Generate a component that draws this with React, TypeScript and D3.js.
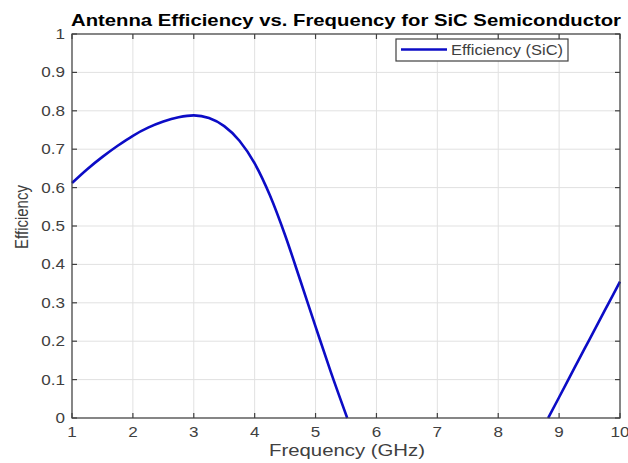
import * as d3 from "d3";

// values (the curve drops below 0 between 5.52 and 8.82 GHz and is clipped away)
const freq = [1, 1.25, 1.5, 1.75, 2, 2.25, 2.5, 2.75, 3, 3.25, 3.5, 3.75, 4, 4.25, 4.5, 4.75, 5, 5.25, 5.52, 8.82, 9, 9.25, 9.5, 9.75, 10];
const efficiency = [0.612, 0.648, 0.68, 0.709, 0.735, 0.756, 0.772, 0.783, 0.788, 0.781, 0.76, 0.722, 0.663, 0.58, 0.476, 0.358, 0.238, 0.12, 0, 0, 0.054, 0.13, 0.205, 0.28, 0.355];
const xTicks = [1, 2, 3, 4, 5, 6, 7, 8, 9, 10];
const yTicks = [0, 0.1, 0.2, 0.3, 0.4, 0.5, 0.6, 0.7, 0.8, 0.9, 1];

const W = 628;
const H = 463;
const left = 72, right = 620, top = 34, bottom = 418;
const font = "'Liberation Sans', Arial, sans-serif";
const axisColor = "#404040";
const lineColor = "#0c0cc6";
const stretch = 1.22;

export default function App() {
  const x = d3.scaleLinear().domain([1, 10]).range([left, right]);
  const y = d3.scaleLinear().domain([0, 1]).range([bottom, top]);
  const pts = freq.map((f, i) => [f, efficiency[i]] as [number, number]);
  const line = d3
    .line<[number, number]>()
    .x((d) => x(d[0]))
    .y((d) => y(d[1]))
    .curve(d3.curveMonotoneX);

  // the part under zero is outside the axes: only the two visible pieces are drawn
  const firstZero = efficiency.indexOf(0);
  const lastZero = efficiency.lastIndexOf(0);
  const pieces = [pts.slice(0, firstZero + 1), pts.slice(lastZero)];

  const tlen = 5;

  return (
    <svg width={W} height={H} style={{ position: "absolute", left: 0, top: 0, background: "#fff" }}>
      <rect x={0} y={0} width={W} height={H} fill="#fff" />
      {/* grid */}
      {xTicks.map((t) => (
        <line key={"gx" + t} x1={x(t)} x2={x(t)} y1={top} y2={bottom} stroke="#e1e1e1" strokeWidth={1} />
      ))}
      {yTicks.map((t) => (
        <line key={"gy" + t} x1={left} x2={right} y1={y(t)} y2={y(t)} stroke="#e1e1e1" strokeWidth={1} />
      ))}

      {/* data */}
      {pieces.map((p, i) => (
        <path key={"p" + i} d={line(p) || ""} fill="none" stroke={lineColor} strokeWidth={2.6} strokeLinejoin="round" />
      ))}

      {/* box + ticks */}
      <rect x={left} y={top} width={right - left} height={bottom - top} fill="none" stroke={axisColor} strokeWidth={1.2} />
      {xTicks.map((t) => (
        <g key={"tx" + t}>
          <line x1={x(t)} x2={x(t)} y1={bottom} y2={bottom - tlen} stroke={axisColor} strokeWidth={1.2} />
          <line x1={x(t)} x2={x(t)} y1={top} y2={top + tlen} stroke={axisColor} strokeWidth={1.2} />
          <text
            transform={`translate(${x(t)},${437}) scale(${stretch},1)`}
            textAnchor="middle"
            fontFamily={font}
            fontSize={14}
            fill={axisColor}
          >
            {t}
          </text>
        </g>
      ))}
      {yTicks.map((t) => (
        <g key={"ty" + t}>
          <line x1={left} x2={left + tlen} y1={y(t)} y2={y(t)} stroke={axisColor} strokeWidth={1.2} />
          <line x1={right} x2={right - tlen} y1={y(t)} y2={y(t)} stroke={axisColor} strokeWidth={1.2} />
          <text
            transform={`translate(${left - 7},${y(t) + 5}) scale(${stretch},1)`}
            textAnchor="end"
            fontFamily={font}
            fontSize={14}
            fill={axisColor}
          >
            {String(t)}
          </text>
        </g>
      ))}

      {/* labels */}
      <text
        x={(left + right) / 2}
        y={26}
        textAnchor="middle"
        fontFamily={font}
        fontSize={17}
        fontWeight="bold"
        fill="#000"
        textLength={550}
        lengthAdjust="spacingAndGlyphs"
      >
        Antenna Efficiency vs. Frequency for SiC Semiconductor
      </text>
      <text
        x={347}
        y={456}
        textAnchor="middle"
        fontFamily={font}
        fontSize={16.5}
        fill={axisColor}
        textLength={156}
        lengthAdjust="spacingAndGlyphs"
      >
        Frequency (GHz)
      </text>
      <text
        transform={`translate(28,217) scale(1.2,1) rotate(-90)`}
        textAnchor="middle"
        fontFamily={font}
        fontSize={15}
        fill={axisColor}
      >
        Efficiency
      </text>

      {/* legend */}
      <rect x={396} y={39} width={172} height={22} fill="#fff" stroke={axisColor} strokeWidth={1.2} />
      <line x1={401} x2={447} y1={49.5} y2={49.5} stroke={lineColor} strokeWidth={2.6} />
      <text
        x={451}
        y={55}
        fontFamily={font}
        fontSize={14}
        fill={axisColor}
        textLength={112}
        lengthAdjust="spacingAndGlyphs"
      >
        Efficiency (SiC)
      </text>
    </svg>
  );
}
